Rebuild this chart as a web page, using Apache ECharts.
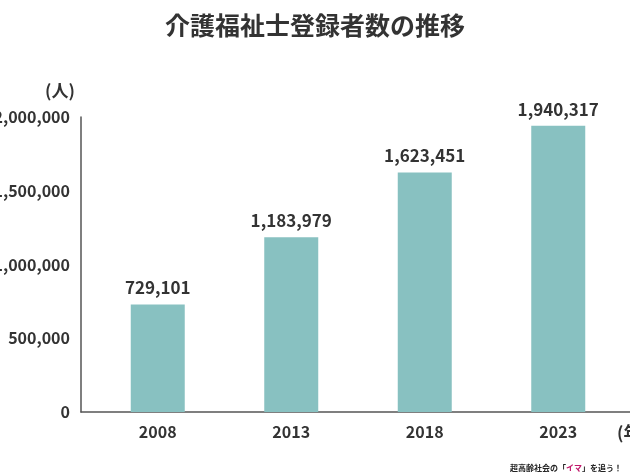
<!DOCTYPE html>
<html><head><meta charset="utf-8">
<script src="https://cdn.jsdelivr.net/npm/echarts@6/dist/echarts.min.js"></script>
<style>html,body{margin:0;padding:0;background:#fff}#c{width:630px;height:472px}</style>
</head><body><div id="c"></div>
<script>
const categories = ['2008', '2013', '2018', '2023'];
const registrants = [729101, 1183979, 1623451, 1940317];
const yTicks = { min: 0, max: 2000000, interval: 500000 };
const titleText = '介護福祉士登録者数の推移';

const FONT = '"Noto Sans CJK JP", "Noto Sans", sans-serif';
const chart = echarts.init(document.getElementById('c'));
const fmt = v => v.toLocaleString('en-US');

chart.setOption({
  animation: false,
  backgroundColor: '#fff',
  textStyle: { fontFamily: FONT },
  title: [
    { text: titleText, left: 'center', top: 8,
      textStyle: { fontSize: 25, fontWeight: 'bold', color: '#333', fontFamily: FONT } },
    { text: '(人)', left: 40, top: 77,
      textStyle: { fontSize: 17, fontWeight: 'bold', color: '#333', fontFamily: FONT } },
    { text: '(年)', left: 612, top: 419,
      textStyle: { fontSize: 17, fontWeight: 'bold', color: '#333', fontFamily: FONT } },
    { text: '{a|超高齢社会の「}{b|イマ}{a|」を追う！}', left: 505, top: 459,
      textStyle: { rich: {
        a: { fontSize: 8, fontWeight: 'bold', color: '#222', fontFamily: FONT },
        b: { fontSize: 8, fontWeight: 'bold', color: '#c0186a', fontFamily: FONT } } } }
  ],
  grid: [
    { left: 91, right: 5, top: 117, bottom: 60, containLabel: false, outerBoundsMode: 'none' },
    { left: 81, right: 0, top: 117, bottom: 60, containLabel: false, outerBoundsMode: 'none' }
  ],
  xAxis: [
    { type: 'category', gridIndex: 0, data: categories,
      axisLine: { show: false }, axisTick: { show: false },
      axisLabel: { margin: 12, fontSize: 16, fontWeight: 'bold', color: '#333', fontFamily: FONT } },
    { type: 'category', gridIndex: 1, data: categories,
      axisLine: { show: true, lineStyle: { color: '#555', width: 1.5 } },
      axisTick: { show: false }, axisLabel: { show: false } }
  ],
  yAxis: [
    { type: 'value', gridIndex: 0, min: yTicks.min, max: yTicks.max, interval: yTicks.interval,
      offset: 10,
      axisLine: { show: true, lineStyle: { color: '#555', width: 1.5 } },
      axisTick: { show: false }, splitLine: { show: false },
      axisLabel: { margin: 11, fontSize: 16, fontWeight: 'bold', color: '#333', fontFamily: FONT,
        padding: [8, 0, 0, 0], formatter: v => fmt(v) } },
    { type: 'value', gridIndex: 1, show: false, min: yTicks.min, max: yTicks.max }
  ],
  series: [{
    type: 'bar', xAxisIndex: 0, yAxisIndex: 0,
    data: registrants, barWidth: 54,
    itemStyle: { color: '#88c1c1' },
    label: { show: true, position: 'top', distance: 8, fontSize: 17, fontWeight: 'bold',
      color: '#333', fontFamily: FONT, formatter: p => fmt(p.value) }
  }]
});
</script></body></html>
